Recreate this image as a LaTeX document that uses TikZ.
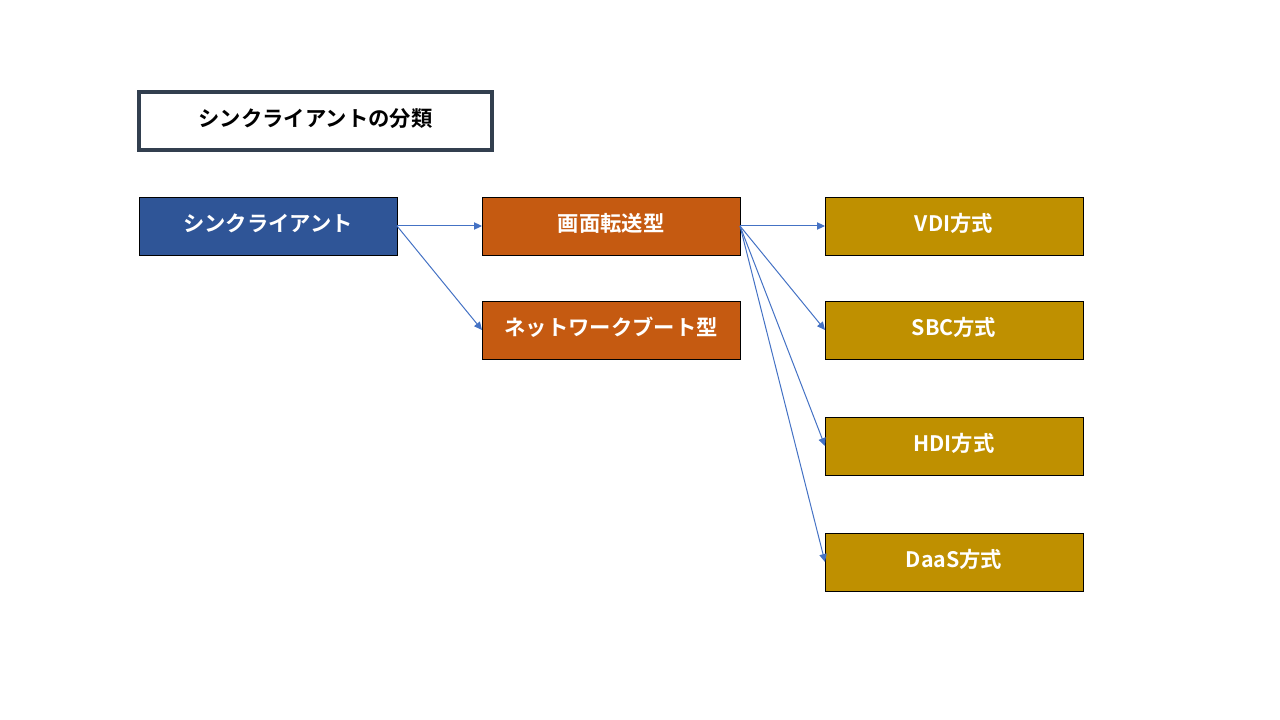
\documentclass[tikz,border=0pt]{standalone}
\usepackage{fontspec}
\setmainfont{Noto Sans CJK JP}[BoldFont={* Bold}]
\usetikzlibrary{arrows.meta}
\definecolor{titleborder}{HTML}{323F4F}
\definecolor{rootblue}{HTML}{2F5597}
\definecolor{midorange}{HTML}{C55A11}
\definecolor{leafgold}{HTML}{BF9000}
\definecolor{arrowblue}{HTML}{4472C4}
\begin{document}
\begin{tikzpicture}[x=0.75pt,y=-0.75pt,
  box/.style={draw=black,line width=0.6pt,minimum width=258*0.75pt,minimum height=58*0.75pt,
    inner sep=0pt,outer sep=0pt,anchor=north west,text=white,font=\fontsize{16}{19}\selectfont\bfseries,
    text height=13pt,text depth=5pt},
  rootbox/.style={box,fill=rootblue},
  midbox/.style={box,fill=midorange},
  leafbox/.style={box,fill=leafgold},
  titlebox/.style={draw=titleborder,line width=2.7pt,fill=white,minimum width=353*0.75pt,
    minimum height=58*0.75pt,inner sep=0pt,outer sep=0pt,anchor=north west,text=black,
    font=\fontsize{16}{19}\selectfont\bfseries,text height=13pt,text depth=5pt},
  conn/.style={draw=arrowblue,line width=0.75pt,-{Triangle[length=6pt,width=5.5pt]}}]
\useasboundingbox (0,0) rectangle (1280,720);
\node[titlebox] (title) at (139,92) {シンクライアントの分類};
\node[rootbox] (root) at (139,197) {シンクライアント};
\node[midbox] (screen) at (482,197) {画面転送型};
\node[midbox] (netboot) at (482,301) {ネットワークブート型};
\node[leafbox] (vdi) at (825,197) {VDI方式};
\node[leafbox] (sbc) at (825,301) {SBC方式};
\node[leafbox] (hdi) at (825,417) {HDI方式};
\node[leafbox] (daas) at (825,533) {DaaS方式};
\draw[conn] (root.east) -- (screen.west);
\draw[conn] (root.east) -- (netboot.west);
\draw[conn] (screen.east) -- (vdi.west);
\draw[conn] (screen.east) -- (sbc.west);
\draw[conn] (screen.east) -- (hdi.west);
\draw[conn] (screen.east) -- (daas.west);
\end{tikzpicture}
\end{document}
